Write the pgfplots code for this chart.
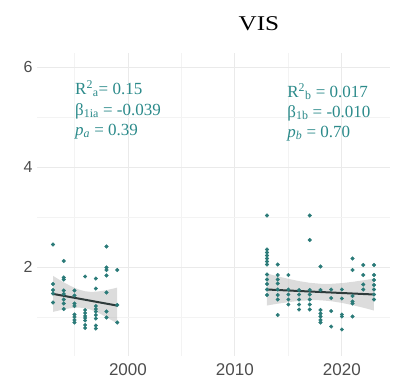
\documentclass[border=0pt]{standalone}
\usepackage{pgfplots}
\pgfplotsset{compat=1.18}
\usepackage{fontspec}
\setmainfont{Liberation Serif}
\newfontfamily\sansf{Liberation Sans}
\definecolor{dotc}{HTML}{2A7A78}
\definecolor{txtc}{HTML}{2B8A8A}
\definecolor{linec}{HTML}{2F3B3B}
\definecolor{gridmaj}{HTML}{EAEAEA}
\definecolor{gridmin}{HTML}{F3F3F3}
\definecolor{tickc}{HTML}{4D4D4D}
\begin{document}
\begin{tikzpicture}
\begin{axis}[
  scale only axis, width=353pt, height=302.5pt,
  xmin=1991.5, xmax=2024.5, ymin=0.225, ymax=6.275,
  xtick={2000,2010,2020}, xticklabels={2000,2010,2020},
  ytick={2,4,6}, yticklabels={2,4,6},
  minor xtick={1995,2005,2015}, minor ytick={1,3,5},
  grid=both,
  major grid style={draw=gridmaj, line width=0.8pt},
  minor grid style={draw=gridmin, line width=0.5pt},
  axis line style={draw=none},
  major tick length=0pt, minor tick length=0pt,
  xticklabel style={font=\sansf\fontsize{17}{18}\selectfont, text=tickc, anchor=base, yshift=-20pt},
  yticklabel style={font=\sansf\fontsize{16}{17}\selectfont, text=tickc, anchor=east, xshift=-1pt},
  clip=false,
]
% left points
\addplot[only marks, mark=*, mark size=1.8pt, color=dotc] coordinates {
(1993,2.45)(1993,1.66)(1993,1.54)(1993,1.47)(1993,1.29)
(1994,2.12)(1994,1.79)(1994,1.75)(1994,1.53)(1994,1.46)(1994,1.35)(1994,1.27)(1994,1.16)
(1995,1.53)(1995,1.43)(1995,1.27)(1995,1.22)(1995,1.05)(1995,1.00)(1995,0.94)(1995,0.89)
(1996,1.81)(1996,1.14)(1996,1.08)(1996,1.02)(1996,0.98)(1996,0.93)(1996,0.84)(1996,0.78)
(1997,1.77)(1997,1.57)(1997,1.22)(1997,1.16)(1997,1.11)(1997,1.04)(1997,0.97)(1997,0.83)(1997,0.77)
(1998,2.41)(1998,1.99)(1998,1.94)(1998,1.83)(1998,1.49)(1998,1.11)(1998,0.99)
(1999,1.94)(1999,1.24)(1999,0.89)
};
% right points
\addplot[only marks, mark=*, mark size=1.8pt, color=dotc] coordinates {
(2013,3.03)(2013,2.35)(2013,2.29)(2013,2.23)(2013,2.17)(2013,2.11)(2013,2.05)(2013,1.85)(2013,1.75)(2013,1.66)(2013,1.55)(2013,1.44)
(2014,2.05)(2014,1.84)(2014,1.75)(2014,1.67)(2014,1.55)(2014,1.44)(2014,1.35)(2014,1.04)
(2015,1.84)(2015,1.55)(2015,1.45)(2015,1.35)(2015,1.25)
(2016,1.54)(2016,1.45)(2016,1.35)(2016,1.25)(2016,1.15)
(2017,3.03)(2017,2.54)(2017,1.54)(2017,1.45)(2017,1.35)(2017,1.25)(2017,1.15)
(2018,2.01)(2018,1.54)(2018,1.14)(2018,1.07)(2018,1.01)(2018,0.94)(2018,0.89)
(2019,1.55)(2019,1.38)(2019,1.12)(2019,0.81)
(2020,1.55)(2020,1.37)(2020,1.05)(2020,1.01)(2020,0.75)
(2021,2.17)(2021,1.94)(2021,1.42)(2021,1.31)(2021,1.27)(2021,1.01)
(2022,2.04)(2022,1.84)(2022,1.65)(2022,1.55)
(2023,2.04)(2023,1.84)(2023,1.74)(2023,1.64)(2023,1.55)(2023,1.45)(2023,1.35)
};
% ribbons
\addplot[draw=none, fill=gray!60, fill opacity=0.45] coordinates {
(1993,1.822)(1993.5,1.757)(1994,1.694)(1994.5,1.636)(1995,1.584)(1995.5,1.543)(1996,1.515)(1996.5,1.503)(1997,1.506)(1997.5,1.519)(1998,1.538)(1998.5,1.562)(1999,1.588)
(1999,0.868)(1998.5,0.933)(1998,0.996)(1997.5,1.054)(1997,1.106)(1996.5,1.148)(1996,1.175)(1995.5,1.187)(1995,1.184)(1994.5,1.171)(1994,1.152)(1993.5,1.128)(1993,1.102)
} -- cycle;
\addplot[draw=none, fill=gray!60, fill opacity=0.45] coordinates {
(2013,1.870)(2014,1.814)(2015,1.763)(2016,1.718)(2017,1.684)(2018,1.665)(2019,1.664)(2020,1.678)(2021,1.703)(2022,1.734)(2023,1.770)
(2023,1.130)(2022,1.186)(2021,1.237)(2020,1.282)(2019,1.316)(2018,1.335)(2017,1.336)(2016,1.322)(2015,1.297)(2014,1.266)(2013,1.230)
} -- cycle;
% regression lines
\addplot[linec, line width=2pt] coordinates {(1993,1.462)(1999,1.228)};
\addplot[linec, line width=2pt] coordinates {(2013,1.55)(2023,1.45)};
% annotations
\node[anchor=base, inner sep=0pt] at (axis cs:2012.24,6.726) {\fontsize{21}{24}\selectfont\scalebox{1.2}[1]{VIS}};
\begin{scope}[every node/.style={anchor=base west, inner sep=0pt, text=txtc, font=\fontsize{17}{20}\selectfont}]
\node at (axis cs:1995.05,5.454) {R\textsuperscript{2}\textsubscript{a}= 0.15};
\node at (axis cs:1995.05,5.04) {β\textsubscript{1ia} = -0.039};
\node at (axis cs:1995.05,4.64) {\textit{p}\textsubscript{\textit{a}} = 0.39};
\node at (axis cs:2014.89,5.394) {R\textsuperscript{2}\textsubscript{b} = 0.017};
\node at (axis cs:2014.89,4.994) {β\textsubscript{1b} = -0.010};
\node at (axis cs:2014.89,4.594) {\textit{p}\textsubscript{\textit{b}} = 0.70};
\end{scope}
\end{axis}
\pgfresetboundingbox
\path[use as bounding box] (-37pt,-25.25pt) rectangle (361pt,355.75pt);
\end{tikzpicture}
\end{document}
